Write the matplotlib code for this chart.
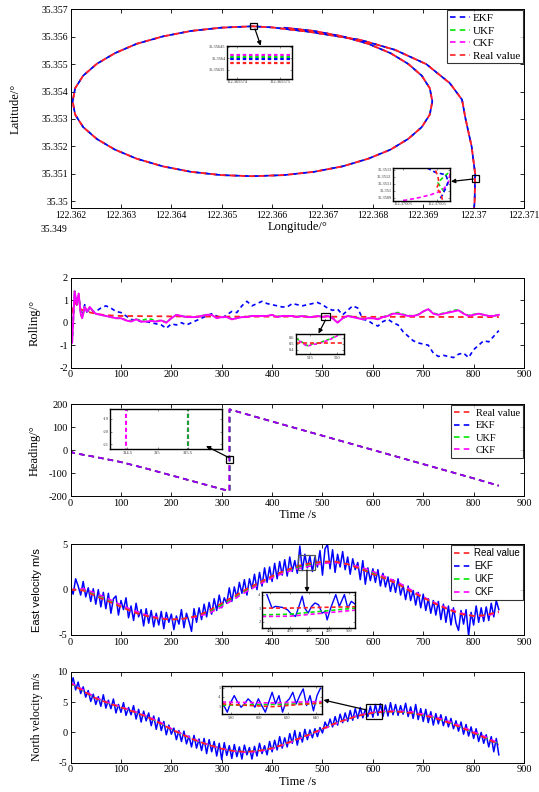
import matplotlib
matplotlib.use('Agg')
import matplotlib.pyplot as plt
from matplotlib.lines import Line2D
from matplotlib.patches import Rectangle, FancyArrowPatch

plt.rcParams['font.family'] = ['Liberation Serif', 'DejaVu Serif']
plt.rcParams['lines.scale_dashes'] = False

# ---------------- data ----------------
# Panel 1: trajectory
lon_real = [122.37001, 122.37002, 122.37003, 122.36996, 122.36984, 122.36977, 122.36953, 122.36906,
            122.36844, 122.36776, 122.36673, 122.36600, 122.36561, 122.36499, 122.36439, 122.36383,
            122.36331, 122.36288, 122.36252, 122.36225, 122.36209, 122.36204, 122.36209, 122.36225,
            122.36252, 122.36288, 122.36331, 122.36383, 122.36439, 122.36499, 122.36561, 122.36623,
            122.36683, 122.36740, 122.36791, 122.36835, 122.36870, 122.36897, 122.36913, 122.36918,
            122.36913, 122.36897, 122.36870, 122.36835, 122.36791, 122.36740, 122.36683, 122.36623]
lat_real = [35.34975, 35.35000, 35.35100, 35.35200, 35.35300, 35.35370, 35.35430, 35.35500,
            35.35552, 35.35588, 35.35618, 35.35634, 35.35638, 35.35633, 35.35621, 35.35601,
            35.35574, 35.35540, 35.35501, 35.35458, 35.35412, 35.35364, 35.35316, 35.35270,
            35.35227, 35.35188, 35.35155, 35.35127, 35.35107, 35.35095, 35.35091, 35.35095,
            35.35107, 35.35127, 35.35155, 35.35188, 35.35227, 35.35270, 35.35316, 35.35364,
            35.35412, 35.35458, 35.35501, 35.35540, 35.35574, 35.35601, 35.35621, 35.35633]
lon_ticks = [122.362, 122.363, 122.364, 122.365, 122.366, 122.367, 122.368, 122.369, 122.370, 122.371]
lon_ticklabels = ['122.362', '122.363', '122.364', '122.365', '122.366', '122.367', '122.368', '122.369', '122.37', '122.371']
lat_ticks = [35.350, 35.351, 35.352, 35.353, 35.354, 35.355, 35.356, 35.357]
lat_ticklabels = ['35.35', '35.351', '35.352', '35.353', '35.354', '35.355', '35.356', '35.357']
lat_extra_label = '35.349'

# inset A (top of ellipse)
insA_lon = [122.3655737, 122.3655753]
insA_ekf = [35.356398, 35.356398]
insA_ukf = [35.356406, 35.356406]
insA_ckf = [35.356414, 35.356414]
insA_real = [35.356380, 35.356380]
insA_xticks = [122.365574, 122.365575]
insA_xlabels = ['122.365574', '122.365575']
insA_yticks = [35.35635, 35.3564, 35.35645]
insA_ylabels = ['35.35635', '35.3564', '35.35645']

# inset B (tail)
insB_ckf_lon = [122.3700300, 122.3700382, 122.3700463, 122.3700535, 122.3700569, 122.3700578, 122.3700586]
insB_ckf_lat = [35.350857, 35.350892, 35.350939, 35.351001, 35.351108, 35.351213, 35.351319]
insB_ekf_lon = [122.3700443, 122.3700494, 122.3700555, 122.3700569, 122.3700555, 122.3700535, 122.3700514]
insB_ekf_lat = [35.351325, 35.351261, 35.351228, 35.351131, 35.351036, 35.350939, 35.350857]
insB_real_lon = [122.3700494, 122.3700508, 122.3700514, 122.3700500, 122.3700524, 122.3700535]
insB_real_lat = [35.351290, 35.351203, 35.351108, 35.351036, 35.350964, 35.350867]
insB_ukf_lon = [122.3700569, 122.3700535, 122.3700508, 122.3700524, 122.3700545]
insB_ukf_lat = [35.351252, 35.351180, 35.351117, 35.351050, 35.350987]
insB_xticks = [122.37003, 122.37005]
insB_xlabels = ['122.37003', '122.37005']
insB_yticks = [35.3509, 35.351, 35.3511, 35.3512, 35.3513]
insB_ylabels = ['35.3509', '35.351', '35.3511', '35.3512', '35.3513']

# Panel 2: rolling
roll_t = [0, 3, 8, 12, 16, 20, 23, 28, 33, 38, 45, 50,
          60, 70, 80, 90, 100, 110, 120, 130, 140, 150, 160, 170, 180, 190, 200, 210, 220, 230, 240, 250,
          260, 270, 280, 290, 300, 310, 320, 330, 340, 350, 360, 370, 380, 390, 400, 410, 420, 430, 440,
          450, 460, 470, 480, 490, 500, 510, 520, 530, 540, 550, 560, 570, 580, 590, 600, 610, 620, 630,
          640, 650, 660, 670, 680, 690, 700, 710, 720, 730, 740, 750, 760, 770, 780, 790, 800, 810, 820,
          830, 840, 850]
roll_ekf = [0, -0.8, 1.3, 0.8, 1.2, 0.5, 0.3, 0.8, 0.4, 0.7, 0.5, 0.5,
            0.65, 0.75, 0.65, 0.5, 0.45, 0.3, 0.15, 0.1, 0.05, 0.05, 0.0, -0.05, -0.1, -0.25, -0.05, -0.1,
            0.0, -0.1, 0.0, 0.1, 0.2, 0.3, 0.4, 0.3, 0.2, 0.35, 0.5, 0.45, 0.75, 0.95, 0.75, 0.85, 0.95,
            0.85, 0.8, 0.75, 0.7, 0.7, 0.85, 0.8, 0.75, 0.8, 0.85, 0.9, 0.8, 0.65, 0.55, 0.6, 0.35, 0.55,
            0.75, 0.65, 0.15, 0.1, -0.05, -0.15, 0.05, 0.15, 0.0, -0.1, -0.4, -0.6, -0.8, -0.9, -0.95,
            -1.0, -1.35, -1.5, -1.45, -1.5, -1.55, -1.4, -1.35, -1.55, -1.2, -1.0, -0.8, -0.85, -0.6, -0.35]
roll_ckf = [0, -0.9, 1.4, 0.8, 1.3, 0.4, 0.2, 0.7, 0.5, 0.7, 0.5, 0.4,
            0.35, 0.3, 0.25, 0.2, 0.2, 0.1, 0.05, 0.15, 0.05, 0.05, 0.08, 0.05, 0.1, 0.0, 0.2, 0.35,
            0.3, 0.25, 0.25, 0.25, 0.3, 0.35, 0.35, 0.2, 0.25, 0.25, 0.15, 0.2, 0.25, 0.25, 0.3, 0.3, 0.3,
            0.3, 0.35, 0.25, 0.3, 0.3, 0.3, 0.25, 0.3, 0.25, 0.25, 0.3, 0.25, 0.3, 0.2, 0.0, 0.2, 0.3,
            0.25, 0.2, 0.15, 0.2, 0.2, 0.15, 0.25, 0.3, 0.4, 0.4, 0.35, 0.3, 0.3, 0.35, 0.5,
            0.6, 0.4, 0.35, 0.4, 0.45, 0.5, 0.55, 0.4, 0.3, 0.35, 0.4, 0.35, 0.3, 0.3, 0.35]
roll_ukf = [0, -0.9, 1.4, 0.8, 1.3, 0.4, 0.2, 0.7, 0.5, 0.7, 0.5, 0.4,
            0.35, 0.3, 0.25, 0.2, 0.2, 0.12, 0.08, 0.15, 0.1, 0.15, 0.15, 0.08, 0.1, 0.02, 0.2, 0.35,
            0.3, 0.25, 0.25, 0.25, 0.3, 0.35, 0.35, 0.22, 0.25, 0.25, 0.17, 0.2, 0.25, 0.27, 0.3, 0.3, 0.3,
            0.3, 0.35, 0.27, 0.3, 0.3, 0.3, 0.27, 0.3, 0.27, 0.25, 0.3, 0.27, 0.3, 0.22, 0.02, 0.2, 0.3,
            0.27, 0.22, 0.17, 0.2, 0.2, 0.17, 0.25, 0.32, 0.42, 0.45, 0.37, 0.32, 0.3, 0.37, 0.5,
            0.6, 0.42, 0.37, 0.42, 0.47, 0.55, 0.57, 0.42, 0.32, 0.37, 0.4, 0.35, 0.3, 0.3, 0.35]
roll_real_t = [0, 5, 10, 15, 20, 30, 40, 50, 60, 80, 100, 200, 300, 400, 500, 600, 700, 800, 850]
roll_real = [0.0, 0.8, 0.9, 0.7, 0.6, 0.5, 0.45, 0.4, 0.36, 0.32, 0.3, 0.28, 0.27, 0.27, 0.27, 0.26, 0.26, 0.25, 0.25]
ins_roll_t = [512.4, 513.5, 514.5, 515.5, 516.5, 517.5, 518.5, 519.5, 520.3, 521.4]
ins_roll_ckf = [0.58, 0.52, 0.46, 0.49, 0.50, 0.53, 0.56, 0.60, 0.64, 0.67]
ins_roll_ukf = [0.59, 0.53, 0.47, 0.50, 0.51, 0.54, 0.57, 0.61, 0.65, 0.68]
ins_roll_real_t = [512.4, 521.4]
ins_roll_real = [0.51, 0.51]

# Panel 3: heading
heading_t = [0, 5, 50, 100, 150, 200, 250, 300, 315.5, 315.5, 320, 400, 500, 600, 700, 800, 850]
heading_t_ckf = [0, 5, 50, 100, 150, 200, 250, 300, 314.48, 314.48, 320, 400, 500, 600, 700, 800, 850]
heading_deg = [0, -12, -30, -52, -80, -110, -140, -170, -178, 178, 175, 125, 63, 1, -61, -123, -155]

# Panel 4: east velocity
vel_t = list(range(0, 855, 5))
coarse_t = list(range(0, 875, 25))
east_real = [0, -0.1, -0.7, -1.3, -1.9, -2.5, -2.9, -3.2, -3.3, -3.2, -2.9, -2.3, -1.5, -0.7, 0.1, 0.8,
             1.5, 2.1, 2.6, 2.9, 3.1, 3.1, 2.8, 2.3, 1.7, 1.2, 0.6, -0.2, -0.9, -1.6, -2.2, -2.7, -2.9,
             -2.8, -2.4]
east_ckf = [0, 0.1, -0.4, -1.0, -1.7, -2.3, -2.8, -3.1, -3.3, -3.2, -3.0, -2.6, -1.9, -1.0, -0.2, 0.6,
            1.3, 1.9, 2.3, 2.6, 2.9, 3.0, 2.8, 2.5, 2.0, 1.4, 0.8, 0.0, -0.8, -1.5, -2.1, -2.6, -2.9,
            -2.9, -2.5]
east_ukf = [0, 0.0, -0.5, -1.1, -1.8, -2.4, -2.85, -3.15, -3.3, -3.2, -2.95, -2.5, -1.7, -0.85, -0.05,
            0.7, 1.4, 2.0, 2.45, 2.75, 3.0, 3.05, 2.8, 2.4, 1.85, 1.3, 0.7, -0.1, -0.85, -1.55, -2.15,
            -2.65, -2.9, -2.85, -2.45]
east_ekf = [0.3, -0.5, 1.2, 0.4, -0.6, 0.9, -0.8, 0.2, -1.3, 0.1,
            -1.6, 0.0, -1.9, -0.3, -2.1, -0.4, -2.6, -1.0, -0.7, -2.8,
            -1.2, -2.2, -0.9, -3.1, -1.8, -3.4, -1.5, -3.0, -2.2, -4.0,
            -2.1, -3.7, -2.3, -4.1, -2.6, -3.9, -2.4, -4.3, -2.5, -3.6,
            -2.7, -4.4, -2.9, -3.8, -2.2, -4.2, -2.6, -3.5, -4.6, -2.1,
            -3.6, -2.0, -3.3, -1.6, -3.0, -1.4, -2.7, -1.0, -2.3, -0.6,
            -2.0, -0.9, -1.5, 0.2, -1.3, 0.3, -0.9, 0.8, -0.4, 1.1,
            -0.6, 1.2, 0.1, 1.7, 0.0, 1.9, 0.4, 2.4, 0.8, 2.5,
            0.9, 2.9, 1.2, 3.1, 1.6, 3.3, 1.5, 3.6, 2.0, 3.2,
            1.8, 4.8, 2.1, 3.9, 2.4, 3.7, 2.0, 3.6, 2.5, 4.3,
            1.6, 4.5, 5.0, 2.3, 4.4, 1.9, 3.9, 2.5, 4.2, 2.2,
            3.6, 1.7, 3.4, 2.2, 3.0, 1.1, 3.2, 0.6, 2.4, 1.0,
            2.3, 0.8, 2.2, 0.4, 1.8, 0.3, 1.4, -0.2, 1.1, -0.3,
            1.2, -0.6, 0.5, -1.1, 0.4, -1.2, -0.1, -1.7, -0.3, -2.0,
            -0.5, -2.3, -1.0, -2.6, -1.2, -2.8, -1.3, -3.3, -1.6, -3.6,
            -1.8, -3.9, -2.0, -3.7, -4.5, -2.3, -3.8, -2.2, -5.1, -2.5,
            -3.9, -1.8, -3.6, -2.0, -3.5, -1.9, -3.4, -1.5, -3.0, -1.2,
            -2.2]
ins_e_t_ekf = [458.3, 460.9, 462.6, 466.2, 468.8, 470.6, 472.9, 474.9, 476.3, 477.6, 479.3, 481.1,
               482.8, 484.6, 486.4, 488.1, 489.0, 490.8, 493.4, 495.2, 497.8, 499.5, 501.3, 503.2]
ins_e_ekf = [4.0, 3.0, 3.13, 3.05, 2.88, 2.58, 2.38, 3.25, 3.88, 3.0, 2.63, 3.13, 3.38, 3.25, 2.63,
             2.75, 2.13, 3.0, 4.0, 3.13, 4.0, 3.0, 3.5, 3.3]
ins_e_t = [455.8, 470, 485, 503.2]
ins_e_real = [3.0, 3.0, 3.05, 3.1]
ins_e_ukf = [2.5, 2.55, 2.75, 3.0]
ins_e_ckf = [2.38, 2.4, 2.6, 2.85]

# Panel 5: north velocity
north_real = [8.0, 6.8, 5.6, 4.8, 4.1, 3.4, 2.6, 1.6, 0.5, -0.5, -1.4, -2.1, -2.7, -3.1, -3.2, -3.0,
              -2.6, -1.9, -1.1, -0.3, 0.6, 1.5, 2.2, 2.8, 3.2, 3.4, 3.4, 3.2, 2.8, 2.3, 1.6, 0.8, -0.1,
              -1.0, -2.0]
north_ckf = [8.2, 7.0, 5.7, 4.9, 4.2, 3.5, 2.7, 1.8, 0.6, -0.4, -1.3, -2.1, -2.7, -3.1, -3.3, -3.1,
             -2.7, -2.0, -1.2, -0.4, 0.5, 1.4, 2.2, 2.9, 3.3, 3.5, 3.5, 3.4, 3.0, 2.5, 1.8, 1.0, 0.1,
             -0.8, -1.8]
north_ukf = [8.1, 6.9, 5.65, 4.85, 4.15, 3.45, 2.65, 1.7, 0.55, -0.45, -1.35, -2.1, -2.7, -3.1, -3.25,
             -3.05, -2.65, -1.95, -1.15, -0.35, 0.55, 1.45, 2.2, 2.85, 3.25, 3.45, 3.45, 3.3, 2.9, 2.4,
             1.7, 0.9, 0.0, -0.9, -1.9]
north_ekf = [7.6, 9.0, 7.0, 8.3, 6.4, 7.5, 5.8, 6.9, 5.1, 6.3,
             4.6, 5.9, 4.3, 6.2, 4.0, 5.3, 3.9, 5.5, 3.2, 4.6,
             3.3, 4.9, 2.8, 4.1, 2.9, 4.4, 2.2, 3.8, 1.7, 3.5,
             1.9, 3.2, 1.1, 2.7, 0.5, 2.4, 0.3, 1.8, -0.4, 1.2,
             -0.3, 0.7, -1.2, 0.3, -1.5, 0.2, -1.9, -0.6, -2.4, -0.5,
             -2.6, -1.1, -3.0, -1.0, -3.5, -1.2, -3.2, -1.5, -3.9, -1.8,
             -4.5, -1.7, -3.8, -2.2, -4.3, -2.0, -4.0, -2.4, -4.4, -2.1,
             -3.7, -2.5, -4.4, -2.3, -3.9, -1.8, -3.5, -2.2, -3.7, -1.5,
             -3.2, -1.3, -2.9, -0.7, -2.6, -0.9, -2.4, -0.2, -1.8, 0.3,
             -2.1, 0.0, -1.6, 0.5, -1.2, 0.4, -0.9, 0.6, -0.7, 0.8,
             -0.1, 1.7, 0.8, 2.2, 0.9, 2.6, 1.2, 3.0, 1.6, 3.2,
             1.8, 3.6, 2.0, 3.9, 2.3, 4.1, 2.4, 3.8, 2.6, 4.3,
             2.5, 4.6, 2.8, 4.7, 2.6, 4.5, 2.7, 4.9, 2.9, 4.6,
             2.8, 4.4, 3.0, 4.8, 2.6, 4.2, 2.3, 4.6, 2.1, 3.9,
             1.8, 3.8, 1.6, 3.4, 1.2, 3.1, 1.4, 2.9, 1.1, 2.6,
             0.9, 2.3, 0.6, 1.9, 0.2, 1.7, -0.3, 1.3, -0.6, 0.9,
             -1.0, 0.6, -1.5, 0.0, -1.8, -0.4, -2.4, -0.7, -3.2, -1.0,
             -3.7]
ins_n_t_ekf = [575.3, 577.7, 580.2, 582.6, 585.0, 587.4, 589.8, 592.3, 594.7, 597.1, 599.5, 601.9,
               604.4, 606.8, 609.2, 611.6, 614.0, 616.5, 618.9, 621.3, 623.7, 626.1, 628.6, 631.0,
               633.4, 635.8, 638.2, 640.7, 643.1]
ins_n_ekf = [3.07, 2.36, 3.43, 4.14, 3.43, 2.89, 3.25, 3.79, 3.43, 2.89, 3.79, 3.07, 2.36, 3.43, 4.5,
             3.25, 4.14, 2.36, 3.43, 3.79, 4.5, 3.25, 4.14, 4.86, 3.07, 4.14, 2.5, 4.14, 4.93]
ins_n_t = [574, 590, 610, 630, 644]
ins_n_real = [3.25, 3.1, 2.95, 3.2, 3.35]
ins_n_ukf = [3.1, 3.15, 3.2, 3.25, 3.3]
ins_n_ckf = [3.45, 3.4, 3.35, 3.45, 3.5]

time_ticks = [0, 100, 200, 300, 400, 500, 600, 700, 800, 900]

# ---------------- figure ----------------
W, H = 539, 792
fig = plt.figure(figsize=(W / 100, H / 100), dpi=100)
fig.patch.set_facecolor('white')

BLUE, GREEN, MAG, RED = '#0000ff', '#00e600', '#ff00ff', '#ff2020'


def rect(x0, y0, x1, y1):
    return [x0 / W, 1 - y1 / H, (x1 - x0) / W, (y1 - y0) / H]


def style(ax, fs=7.5, lw=0.7, length=3):
    ax.tick_params(direction='in', top=True, right=True, length=length, width=0.6,
                   labelsize=fs, pad=2)
    for s in ax.spines.values():
        s.set_linewidth(lw)


def arrow(x0, y0, x1, y1):
    fig.add_artist(FancyArrowPatch((x0 / W, 1 - y0 / H), (x1 / W, 1 - y1 / H),
                                   transform=fig.transFigure, arrowstyle='-|>',
                                   mutation_scale=6, color='k', lw=0.9,
                                   shrinkA=0, shrinkB=0, zorder=20))


def box(ax, x0, x1, y0, y1, color='k'):
    ax.add_patch(Rectangle((x0, y0), x1 - x0, y1 - y0, fill=False, ec=color, lw=0.9, zorder=10))


def inset_style(ax, xt, xl, yt, yl):
    ax.set_xticks(xt)
    ax.set_xticklabels(xl)
    ax.set_yticks(yt)
    ax.set_yticklabels(yl)
    ax.tick_params(direction='in', top=True, right=True, length=1.5, width=0.4,
                   labelsize=3.2, pad=1, colors='#333333')
    for s in ax.spines.values():
        s.set_linewidth(1.0)
        s.set_color('k')


DASH = (4, 3)

# ---- Panel 1 ----
ax1 = fig.add_axes(rect(70.6, 9.3, 524, 208))
l_ukf, = ax1.plot(lon_real, lat_real, color=GREEN, lw=1.2, ls=(1.5, DASH), label='UKF')
l_ckf, = ax1.plot(lon_real, lat_real, color=MAG, lw=1.2, ls=(2.5, DASH), label='CKF')
l_ekf, = ax1.plot(lon_real, lat_real, color=BLUE, lw=1.2, ls=(0, DASH), label='EKF')
l_real, = ax1.plot(lon_real, lat_real, color=RED, lw=1.3, ls=(3.5, DASH), label='Real value')
ax1.set_xlim(122.362, 122.371)
ax1.set_ylim(35.34975, 35.357)
ax1.set_xticks(lon_ticks)
ax1.set_xticklabels(lon_ticklabels)
ax1.set_yticks(lat_ticks)
ax1.set_yticklabels(lat_ticklabels)
style(ax1, fs=7)
ax1.set_xlabel('Longitude/°', fontsize=9, labelpad=1)
ax1.set_ylabel('Latitude/°', fontsize=9)
ax1.yaxis.set_label_coords(-0.109, 0.5)
fig.text(67 / W, 1 - 229 / H, lat_extra_label, fontsize=7, ha='right', va='center')
h1 = [Line2D([], [], color=BLUE, lw=1.2, ls=(0, DASH)), Line2D([], [], color=GREEN, lw=1.2, ls=(0, DASH)),
      Line2D([], [], color=MAG, lw=1.2, ls=(0, DASH)), Line2D([], [], color=RED, lw=1.2, ls=(0, DASH))]
leg = ax1.legend(h1, ['EKF', 'UKF', 'CKF', 'Real value'], loc='upper right', fontsize=8,
                 frameon=True, fancybox=False, edgecolor='k',
                 borderaxespad=0.1, handlelength=1.8, handletextpad=0.3, labelspacing=0.25,
                 borderpad=0.25)
leg.get_frame().set_linewidth(0.8)
box(ax1, 122.365567, 122.365706, 35.356282, 35.356511)
box(ax1, 122.369976, 122.370109, 35.350715, 35.350959)

axA = fig.add_axes(rect(227, 46, 292, 79))
for yv, c in [(insA_ckf, MAG), (insA_ukf, GREEN), (insA_ekf, BLUE), (insA_real, RED)]:
    axA.plot(insA_lon, yv, color=c, lw=1.6, ls=(0, (2.5, 2)))
axA.set_xlim(122.36557377, 122.36557528)
axA.set_ylim(35.356311, 35.356453)
inset_style(axA, insA_xticks, insA_xlabels, insA_yticks, insA_ylabels)

axB = fig.add_axes(rect(393, 168, 450, 201))
axB.plot(insB_ukf_lon, insB_ukf_lat, color=GREEN, lw=1.2, ls=(0, (3, 2)))
axB.plot(insB_ckf_lon, insB_ckf_lat, color=MAG, lw=1.2, ls=(0, (3, 2)))
axB.plot(insB_ekf_lon, insB_ekf_lat, color=BLUE, lw=1.2, ls=(0, (3, 2)))
axB.plot(insB_real_lon, insB_real_lat, color=RED, lw=1.2, ls=(0, (3, 2)))
axB.set_xlim(122.370024, 122.370058)
axB.set_ylim(35.350851, 35.351325)
inset_style(axB, insB_xticks, insB_xlabels, insB_yticks, insB_ylabels)

arrow(255, 29, 260.7, 45.7)
arrow(473.3, 179, 451, 181.5)

# ---- Panel 2 ----
ax2 = fig.add_axes(rect(70.6, 277.7, 524, 367.7))
ax2.plot(roll_t, roll_ekf, color=BLUE, lw=1.2, ls=(0, (3, 2.5)))
ax2.plot(roll_t, roll_ukf, color=GREEN, lw=1.3, ls=(0, (3, 2)))
ax2.plot(roll_real_t, roll_real, color=RED, lw=1.3, ls=(0, DASH))
ax2.plot(roll_t, roll_ckf, color=MAG, lw=1.4)
ax2.set_xlim(0, 900)
ax2.set_ylim(-2, 2)
ax2.set_xticks(time_ticks)
ax2.set_yticks([-2, -1, 0, 1, 2])
ax2.set_yticklabels(['-2', '-1', '0', '1', '2'])
style(ax2)
ax2.set_ylabel('Rolling/°', fontsize=9)
ax2.yaxis.set_label_coords(-0.067, 0.5)
box(ax2, 498, 514, 0.12, 0.42)

axR = fig.add_axes(rect(296, 334, 344, 354.3))
axR.plot(ins_roll_t, ins_roll_ukf, color=GREEN, lw=1.2, ls=(0, (2.5, 1.5)))
axR.plot(ins_roll_t, ins_roll_ckf, color=MAG, lw=1.2, ls=(1.5, (2.5, 1.5)))
axR.plot(ins_roll_real_t, ins_roll_real, color=RED, lw=1.2, ls=(0, (3, 2)))
axR.set_xlim(512.4, 521.4)
axR.set_ylim(0.33, 0.66)
inset_style(axR, [515, 520], ['515', '520'], [0.4, 0.5, 0.6], ['0.4', '0.5', '0.6'])
arrow(325.5, 320, 318.5, 333.5)

# ---- Panel 3 ----
ax3 = fig.add_axes(rect(70.6, 404.3, 524, 496))
ax3.plot(heading_t, heading_deg, color=GREEN, lw=1.2, ls=(0, DASH))
ax3.plot(heading_t, heading_deg, color=RED, lw=1.2, ls=(0, DASH))
ax3.plot(heading_t, heading_deg, color=BLUE, lw=1.2, ls=(0, DASH))
ax3.plot(heading_t_ckf, heading_deg, color=MAG, lw=1.2, ls=(0, DASH), alpha=0.6)
ax3.set_xlim(0, 900)
ax3.set_ylim(-200, 200)
ax3.set_xticks(time_ticks)
ax3.set_yticks([-200, -100, 0, 100, 200])
ax3.set_yticklabels(['-200', '-100', '0', '100', '200'])
style(ax3)
ax3.set_ylabel('Heading/°', fontsize=9)
ax3.yaxis.set_label_coords(-0.065, 0.5)
ax3.set_xlabel('Time /s', fontsize=9, labelpad=1)
h3 = [Line2D([], [], color=RED, lw=1.2, ls=(0, DASH)), Line2D([], [], color=BLUE, lw=1.2, ls=(0, DASH)),
      Line2D([], [], color=GREEN, lw=1.2, ls=(0, DASH)), Line2D([], [], color=MAG, lw=1.2, ls=(0, DASH))]
leg3 = ax3.legend(h3, ['Real value', 'EKF', 'UKF', 'CKF'], loc='upper right', fontsize=7.5,
                  frameon=True, fancybox=False, edgecolor='k', borderaxespad=0.1, handlelength=1.8,
                  handletextpad=0.3, labelspacing=0.3, borderpad=0.3)
leg3.get_frame().set_linewidth(0.8)
box(ax3, 308, 323, -55, -26)

axH = fig.add_axes(rect(110, 409.3, 222, 449.3))
axH.plot(heading_t, heading_deg, color=RED, lw=1.5, ls=(0, (3, 2)))
axH.plot(heading_t, heading_deg, color=BLUE, lw=1.5, ls=(0, (3, 2)), alpha=0.7)
axH.plot(heading_t, heading_deg, color=GREEN, lw=1.5, ls=(0, (3, 2)), alpha=0.7)
axH.plot(heading_t_ckf, heading_deg, color=MAG, lw=1.5, ls=(0, (3, 2)))
axH.set_xlim(314.21, 316.07)
axH.set_ylim(-21.38, -18.25)
inset_style(axH, [314.5, 315, 315.5], ['314.5', '315', '315.5'], [-21, -20, -19], ['-21', '-20', '-19'])
arrow(229, 457.7, 206, 446)

# ---- Panel 4 ----
ax4 = fig.add_axes(rect(70.6, 544.3, 524, 635))
ax4.plot(vel_t, east_ekf, color=BLUE, lw=1.1)
ax4.plot(coarse_t, east_ukf, color=GREEN, lw=1.2, ls=(0, DASH))
ax4.plot(coarse_t, east_ckf, color=MAG, lw=1.2, ls=(0, DASH))
ax4.plot(coarse_t, east_real, color=RED, lw=1.2, ls=(0, DASH))
ax4.set_xlim(0, 900)
ax4.set_ylim(-5, 5)
ax4.set_xticks(time_ticks)
ax4.set_yticks([-5, 0, 5])
ax4.set_yticklabels(['-5', '0', '5'])
style(ax4)
ax4.set_ylabel('East velocity m/s', fontsize=8, family=['Liberation Sans', 'DejaVu Sans'])
ax4.yaxis.set_label_coords(-0.063, 0.5)
h4 = [Line2D([], [], color=RED, lw=1.2, ls=(0, DASH)), Line2D([], [], color=BLUE, lw=1.2, ls=(0, DASH)),
      Line2D([], [], color=GREEN, lw=1.2, ls=(0, DASH)), Line2D([], [], color=MAG, lw=1.2, ls=(0, DASH))]
leg4 = ax4.legend(h4, ['Real value', 'EKF', 'UKF', 'CKF'], loc='upper right',
                  prop={'family': ['Liberation Sans', 'DejaVu Sans'], 'size': 7},
                  frameon=True, fancybox=False, edgecolor='k', borderaxespad=0.1, handlelength=1.8,
                  handletextpad=0.3, labelspacing=0.3, borderpad=0.3)
leg4.get_frame().set_linewidth(0.8)
box(ax4, 452, 486, 2.2, 3.8, color='#555555')

axE = fig.add_axes(rect(262, 592.3, 355, 627.7))
axE.plot(ins_e_t_ekf, ins_e_ekf, color=BLUE, lw=1.0)
axE.plot(ins_e_t, ins_e_ukf, color=GREEN, lw=1.2, ls=(0, (3, 2)))
axE.plot(ins_e_t, ins_e_ckf, color=MAG, lw=1.2, ls=(0, (3, 2)))
axE.plot(ins_e_t, ins_e_real, color=RED, lw=1.2, ls=(0, (3, 2)))
axE.set_xlim(455.8, 503.2)
axE.set_ylim(1.55, 4.17)
inset_style(axE, [460, 470, 480, 490, 500], ['460', '470', '480', '490', '500'], [2, 3, 4], ['2', '3', '4'])
arrow(307, 570, 307, 592.3)

# ---- Panel 5 ----
ax5 = fig.add_axes(rect(70.6, 671.7, 524, 762.7))
ax5.plot(vel_t, north_ekf, color=BLUE, lw=1.1)
ax5.plot(coarse_t, north_ukf, color=GREEN, lw=1.2, ls=(0, DASH))
ax5.plot(coarse_t, north_ckf, color=MAG, lw=1.2, ls=(0, DASH))
ax5.plot(coarse_t, north_real, color=RED, lw=1.2, ls=(2, DASH))
ax5.set_xlim(0, 900)
ax5.set_ylim(-5, 10)
ax5.set_xticks(time_ticks)
ax5.set_yticks([-5, 0, 5, 10])
ax5.set_yticklabels(['-5', '0', '5', '10'])
style(ax5)
ax5.set_ylabel('North velocity m/s', fontsize=8.5)
ax5.yaxis.set_label_coords(-0.061, 0.5)
ax5.set_xlabel('Time /s', fontsize=9, labelpad=1)
box(ax5, 587, 619, 2.16, 4.63)

axN = fig.add_axes(rect(222, 686, 322, 714.3))
axN.plot(ins_n_t_ekf, ins_n_ekf, color=BLUE, lw=1.0)
axN.plot(ins_n_t, ins_n_ukf, color=GREEN, lw=1.2, ls=(0, (3, 2)))
axN.plot(ins_n_t, ins_n_ckf, color=MAG, lw=1.2, ls=(0, (3, 2)))
axN.plot(ins_n_t, ins_n_real, color=RED, lw=1.2, ls=(0, (3, 2)))
axN.set_xlim(574, 644.2)
axN.set_ylim(2.13, 5.17)
inset_style(axN, [580, 600, 620, 640], ['580', '600', '620', '640'], [3, 4, 5], ['3', '4', '5'])
arrow(366.7, 710, 323.5, 700)

fig.savefig('out.png', dpi=100)
